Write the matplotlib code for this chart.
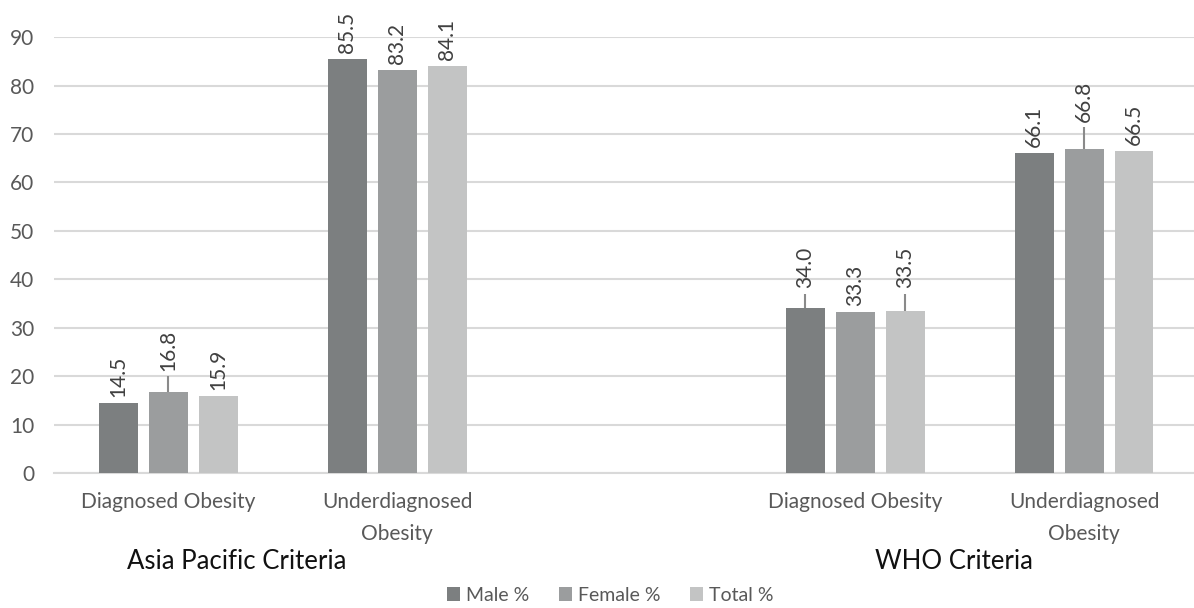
import numpy as np
import matplotlib.pyplot as plt

plt.rcParams['font.family'] = ['Lato', 'DejaVu Sans']

categories = ['Diagnosed Obesity', 'Underdiagnosed\nObesity',
              'Diagnosed Obesity', 'Underdiagnosed\nObesity']
criteria = ['Asia Pacific Criteria', 'WHO Criteria']
series_names = ['Male %', 'Female %', 'Total %']

male = [14.5, 85.5, 34.0, 66.1]
female = [16.8, 83.2, 33.3, 66.8]
total = [15.9, 84.1, 33.5, 66.5]

err_male = [0, 0, 3.0, 0]
err_female = [3.2, 0, 0, 4.6]
err_total = [0, 0, 3.5, 0]

colors = ['#7c7f80', '#9b9d9e', '#c3c4c4']

pos = np.array([0, 1, 3, 4])
width = 0.17
step = 0.218

fig = plt.figure(figsize=(11.94, 6.08), dpi=100)
ax = fig.add_axes([0.0452, 0.222, 0.9548, 0.717])

for i, (vals, errs) in enumerate(zip([male, female, total], [err_male, err_female, err_total])):
    x = pos + (i - 1) * step
    ax.bar(x, vals, width, color=colors[i], label=series_names[i], zorder=3)
    errs = np.array(errs)
    has = errs > 0
    ax.errorbar(x[has], np.array(vals)[has], yerr=[np.zeros(has.sum()), errs[has]],
                fmt='none', ecolor='#8a8a8a', elinewidth=1.5, capsize=0, zorder=4)
    for xi, v, e in zip(x, vals, errs):
        ax.annotate('{:.1f}'.format(v), (xi, v + e), xytext=(0, 4), textcoords='offset points',
                    rotation=90, ha='center', va='bottom', fontsize=15, color='#404040',
                    annotation_clip=False)

ax.set_ylim(0, 90)
ax.set_xlim(-0.5, 4.48)
ax.set_yticks(range(0, 91, 10))
ax.set_xticks(pos)
ax.set_xticklabels(categories, fontsize=15, color='#595959', linespacing=1.75, va='top')
ax.tick_params(axis='both', length=0)
ax.tick_params(axis='y', labelsize=15, labelcolor='#595959', pad=14)
ax.tick_params(axis='x', pad=14)
ax.grid(axis='y', color='#d9d9d9', linewidth=1.5, zorder=0)
for s in ['top', 'right', 'left']:
    ax.spines[s].set_visible(False)
ax.spines['bottom'].set_color('#d9d9d9')
ax.spines['bottom'].set_linewidth(1.5)

ax.text(0.3, -0.204, criteria[0], transform=ax.get_xaxis_transform(), ha='center', va='center',
        fontsize=18.5, color='#111111')
ax.text(3.43, -0.204, criteria[1], transform=ax.get_xaxis_transform(), ha='center', va='center',
        fontsize=18.5, color='#111111')

leg = ax.legend(loc='center', bbox_to_anchor=(0.488, -0.28), ncol=3, frameon=False,
                fontsize=14, handlelength=0.7, handleheight=0.7, handletextpad=0.3,
                columnspacing=1.5)
for t in leg.get_texts():
    t.set_color('#595959')

fig.savefig('out.png', dpi=100)
